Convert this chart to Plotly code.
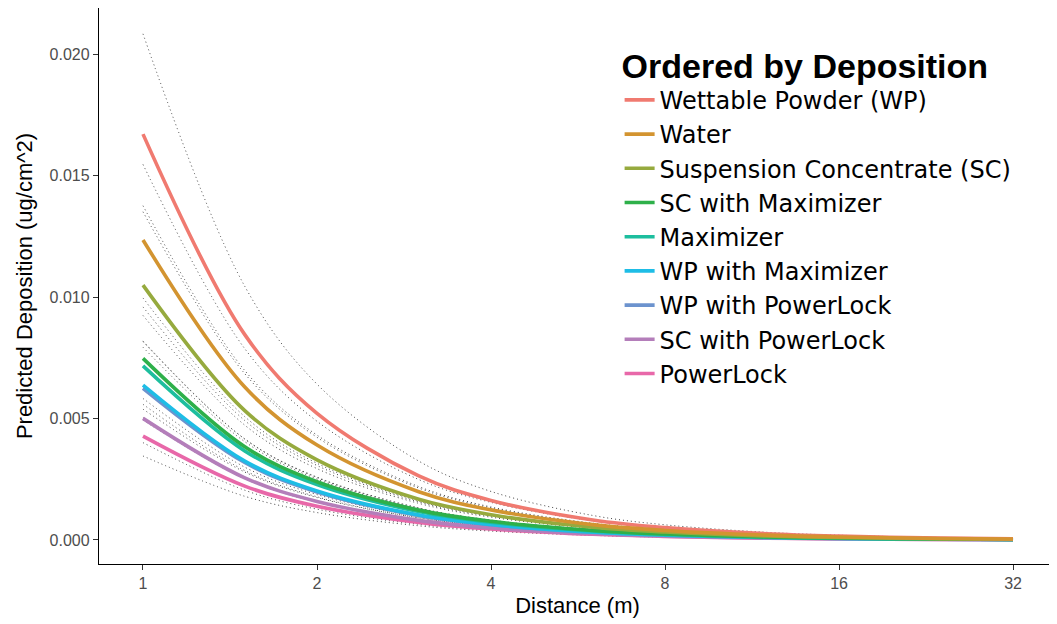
import plotly.graph_objects as go

# Distances (m)
distance = [1, 1.5, 2, 3, 4, 6, 8, 12, 16, 24, 32]

series_names = [
    "Wettable Powder (WP)",
    "Water",
    "Suspension Concentrate (SC)",
    "SC with Maximizer",
    "Maximizer",
    "WP with Maximizer",
    "WP with PowerLock",
    "SC with PowerLock",
    "PowerLock",
]

series_colors = [
    "#F07A70", "#D39430", "#96AA3E", "#2EB04A", "#1DBE9E",
    "#1EBDE6", "#6C93CE", "#B47EBA", "#E868A9",
]

# Predicted deposition (ug/cm^2)
fit_wp = [0.01672, 0.00846, 0.00522, 0.00264, 0.00163, 0.000824, 0.000508, 0.000257, 0.000159, 0.0000803, 0.0000495]
fit_water = [0.01236, 0.00630, 0.00391, 0.00199, 0.00124, 0.000632, 0.000392, 0.000200, 0.000124, 0.0000633, 0.0000392]
fit_sc = [0.0105, 0.00533, 0.00330, 0.00168, 0.00104, 0.000527, 0.000327, 0.000165, 0.000102, 0.000052, 0.0000321]
fit_sc_max = [0.00748, 0.00384, 0.00240, 0.00123, 0.000770, 0.000396, 0.000247, 0.000127, 0.0000793, 0.0000408, 0.0000254]
fit_max = [0.00717, 0.00367, 0.00228, 0.00117, 0.000728, 0.000373, 0.000232, 0.000119, 0.0000739, 0.0000379, 0.0000236]
fit_wp_max = [0.00638, 0.00325, 0.00202, 0.00103, 0.000639, 0.000326, 0.000202, 0.000103, 0.0000640, 0.0000327, 0.0000202]
fit_wp_pl = [0.00625, 0.00319, 0.00198, 0.00101, 0.000626, 0.000319, 0.000198, 0.000101, 0.0000627, 0.0000320, 0.0000198]
fit_sc_pl = [0.00501, 0.00256, 0.00159, 0.000809, 0.000502, 0.000256, 0.000159, 0.0000810, 0.0000503, 0.0000257, 0.0000159]
fit_pl = [0.00428, 0.00222, 0.00139, 0.000722, 0.000453, 0.000235, 0.000147, 0.0000764, 0.0000479, 0.0000249, 0.0000156]

# Upper confidence bounds
hi_wp = [0.02085, 0.01045, 0.00642, 0.00325, 0.00200, 0.00101, 0.000625, 0.000316, 0.000196, 0.0000988, 0.0000609]
hi_water = [0.01547, 0.00788, 0.00489, 0.00249, 0.00155, 0.000790, 0.000490, 0.000250, 0.000155, 0.0000791, 0.0000490]
hi_sc = [0.01377, 0.00698, 0.00432, 0.00220, 0.00136, 0.000690, 0.000428, 0.000216, 0.000134, 0.0000681, 0.0000421]
hi_sc_max = [0.00960, 0.00492, 0.00307, 0.00157, 0.000986, 0.000507, 0.000316, 0.000163, 0.000102, 0.0000522, 0.0000325]
hi_max = [0.00925, 0.00473, 0.00294, 0.00151, 0.000939, 0.000481, 0.000299, 0.000154, 0.0000953, 0.0000489, 0.0000304]
hi_wp_max = [0.00817, 0.00416, 0.00259, 0.00132, 0.000818, 0.000417, 0.000259, 0.000132, 0.0000819, 0.0000419, 0.0000259]
hi_wp_pl = [0.00794, 0.00405, 0.00251, 0.00128, 0.000795, 0.000405, 0.000251, 0.000128, 0.0000796, 0.0000406, 0.0000251]
hi_sc_pl = [0.00636, 0.00325, 0.00202, 0.00103, 0.000638, 0.000325, 0.000202, 0.000103, 0.0000639, 0.0000326, 0.0000202]
hi_pl = [0.00539, 0.00280, 0.00175, 0.000910, 0.000571, 0.000296, 0.000185, 0.0000963, 0.0000604, 0.0000314, 0.0000197]

# Lower confidence bounds
lo_wp = [0.01352, 0.00685, 0.00423, 0.00214, 0.00132, 0.000667, 0.000411, 0.000208, 0.000129, 0.0000650, 0.0000401]
lo_water = [0.00997, 0.00508, 0.00316, 0.00161, 0.00100, 0.000510, 0.000316, 0.000161, 0.000100, 0.0000511, 0.0000316]
lo_sc = [0.0082, 0.00416, 0.00257, 0.00131, 0.000811, 0.000411, 0.000255, 0.000129, 0.0000796, 0.0000406, 0.0000250]
lo_sc_max = [0.00583, 0.00300, 0.00187, 0.000959, 0.000601, 0.000309, 0.000193, 0.0000991, 0.0000619, 0.0000318, 0.0000198]
lo_max = [0.00559, 0.00286, 0.00178, 0.000913, 0.000568, 0.000291, 0.000181, 0.0000928, 0.0000576, 0.0000296, 0.0000184]
lo_wp_max = [0.00504, 0.00257, 0.00160, 0.000814, 0.000505, 0.000258, 0.000160, 0.0000814, 0.0000506, 0.0000258, 0.0000160]
lo_wp_pl = [0.00494, 0.00252, 0.00156, 0.000798, 0.000495, 0.000252, 0.000156, 0.0000798, 0.0000495, 0.0000253, 0.0000156]
lo_sc_pl = [0.00401, 0.00205, 0.00127, 0.000647, 0.000402, 0.000205, 0.000127, 0.0000648, 0.0000402, 0.0000206, 0.0000127]
lo_pl = [0.00346, 0.00180, 0.00113, 0.000585, 0.000367, 0.000190, 0.000119, 0.0000619, 0.0000388, 0.0000202, 0.0000126]

fits = [fit_wp, fit_water, fit_sc, fit_sc_max, fit_max, fit_wp_max, fit_wp_pl, fit_sc_pl, fit_pl]
his = [hi_wp, hi_water, hi_sc, hi_sc_max, hi_max, hi_wp_max, hi_wp_pl, hi_sc_pl, hi_pl]
los = [lo_wp, lo_water, lo_sc, lo_sc_max, lo_max, lo_wp_max, lo_wp_pl, lo_sc_pl, lo_pl]

x_ticks = [1, 2, 4, 8, 16, 32]
x_tick_labels = ["1", "2", "4", "8", "16", "32"]
y_ticks = [0.0, 0.005, 0.010, 0.015, 0.020]
y_tick_labels = ["0.000", "0.005", "0.010", "0.015", "0.020"]

FONT = "Liberation Sans, Arial, Helvetica, sans-serif"
LEGEND_FONT = "DejaVu Sans, Liberation Sans, sans-serif"

fig = go.Figure()

# dotted confidence bounds
for bounds in (his, los):
    for b in bounds:
        fig.add_trace(go.Scatter(
            x=distance, y=b, mode="lines", showlegend=False, hoverinfo="skip",
            line=dict(color="#444444", width=1, dash="1px,3px", shape="spline"),
        ))

# fitted lines (draw order: lowest first, Water on top)
draw_order = [8, 7, 6, 5, 4, 3, 2, 0, 1]
for i in draw_order:
    fig.add_trace(go.Scatter(
        x=distance, y=fits[i], mode="lines", name=series_names[i],
        legendrank=i + 1,
        line=dict(color=series_colors[i], width=3.6, shape="spline"),
    ))

# The page places the figure 8px from the top-left corner of the window,
# so the figure is sized to fill the rest of the 1057x624 window.
fig.update_layout(
    width=1049, height=616,
    margin=dict(l=91, r=1, t=0, b=60),
    paper_bgcolor="white", plot_bgcolor="white",
    font=dict(family=FONT, color="black"),
    legend=dict(
        title=dict(text="<b>Ordered by Deposition</b>", font=dict(size=34, family=FONT, color="black")),
        font=dict(size=24, family=LEGEND_FONT, color="black"),
        x=0.544, y=0.954, xanchor="left", yanchor="top",
        bgcolor="rgba(0,0,0,0)", itemwidth=30, tracegroupgap=0,
    ),
    xaxis=dict(
        type="log", range=[-0.0761, 1.5795],
        tickvals=x_ticks, ticktext=x_tick_labels,
        showgrid=False, zeroline=False, automargin=False,
        showline=True, linecolor="black", linewidth=1.3,
        ticks="outside", ticklen=5, tickcolor="#333333", tickwidth=1,
        tickfont=dict(size=16, color="#4d4d4d", family=FONT),
        title=dict(text="Distance (m)", font=dict(size=22, color="black", family=FONT), standoff=6),
    ),
    yaxis=dict(
        range=[-0.000989, 0.021915],
        tickvals=y_ticks, ticktext=y_tick_labels,
        showgrid=False, zeroline=False, automargin=False,
        showline=True, linecolor="black", linewidth=1.3,
        ticks="outside", ticklen=5, tickcolor="#333333", tickwidth=1,
        tickfont=dict(size=16, color="#4d4d4d", family=FONT),
        title=dict(text="Predicted Deposition (ug/cm^2)", font=dict(size=22, color="black", family=FONT), standoff=10),
    ),
)

fig.write_html("out.html")
